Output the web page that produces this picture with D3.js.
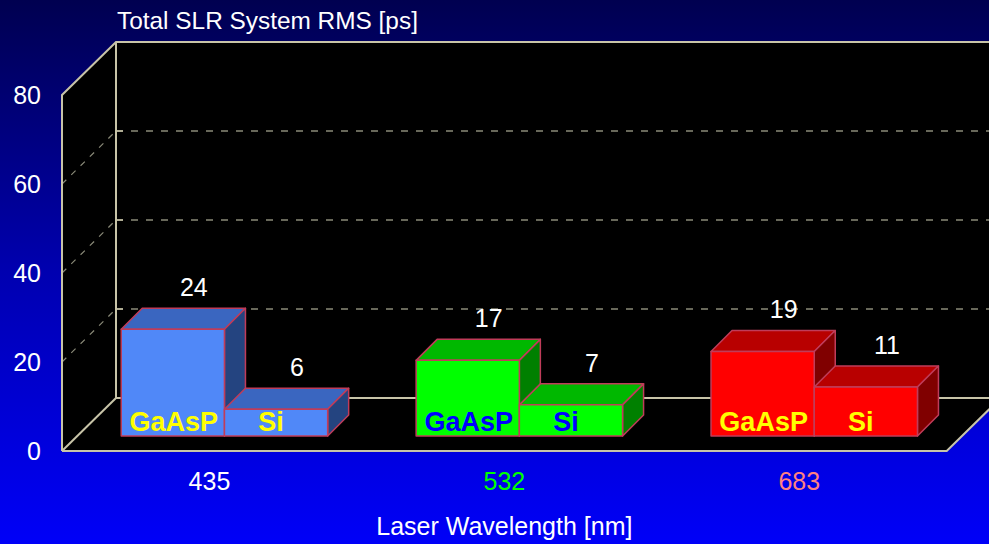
<!DOCTYPE html>
<html>
<head>
<meta charset="utf-8">
<script src="https://cdn.jsdelivr.net/npm/d3@7"></script>
<style>
  html, body { margin: 0; padding: 0; background: #000050; }
  svg { display: block; }
  text { font-family: "Liberation Sans", Arial, Helvetica, sans-serif; }
</style>
</head>
<body>
<svg id="chart" width="989" height="544"></svg>
<script>
// ---- data ----
const categories = ["435", "532", "683"];
const series = ["GaAsP", "Si"];
const gaaspValues = [24, 17, 19];
const siValues = [6, 7, 11];
const yTicks = [0, 20, 40, 60, 80];
const yTitle = "Total SLR System RMS [ps]";
const xTitle = "Laser Wavelength [nm]";

// ---- styles ----
const palettes = [
  { front: "#5088f8", top: "#3a66c0", side: "#244480", label: "#ffff00", cat: "#ffffff" },
  { front: "#00ff00", top: "#00b800", side: "#008000", label: "#0000ff", cat: "#00ff00" },
  { front: "#ff0000", top: "#b80000", side: "#800000", label: "#ffff00", cat: "#ff8080" }
];
const lineColor = "#c8c4a8";
const gridColor = "#8a8a78";

const W = 989, H = 544;
const svg = d3.select("#chart");

// background gradient
const defs = svg.append("defs");
const grad = defs.append("linearGradient").attr("id", "bg").attr("x1", 0).attr("y1", 0).attr("x2", 0).attr("y2", 1);
grad.append("stop").attr("offset", "0%").attr("stop-color", "#000050");
grad.append("stop").attr("offset", "50%").attr("stop-color", "#0000b0");
grad.append("stop").attr("offset", "100%").attr("stop-color", "#0000f8");
svg.append("rect").attr("width", W).attr("height", H).attr("fill", "url(#bg)");

// ---- scales (front plane) ----
const x0 = d3.scaleBand().domain(categories).range([62, 946.7]).paddingInner(0.3).paddingOuter(0.15);
const x1 = d3.scaleBand().domain(series).range([0, x0.bandwidth()]).padding(0);
const y = d3.scaleLinear().domain([0, 80]).range([451, 95]);

// depth of the whole box and of bars
const DX = 54, DY = 53;
const barOff = 15, barDepth = 21;

// back wall
const backLeft = 62 + DX, backTop = y(80) - DY, backBottom = y(0) - DY;
svg.append("rect").attr("x", backLeft).attr("y", backTop).attr("width", W - backLeft + 20).attr("height", backBottom - backTop).attr("fill", "#000");
// side wall
svg.append("path").attr("d", `M62,${y(80)} L${backLeft},${backTop} L${backLeft},${backBottom} L62,${y(0)} Z`).attr("fill", "#000");
// floor
const xEnd = x0.range()[1];
svg.append("path").attr("d", `M62,${y(0)} L${xEnd},${y(0)} L${xEnd + DX},${backBottom} L${backLeft},${backBottom} Z`).attr("fill", "#000");

// gridlines
const gridVals = yTicks.filter(v => v > 0 && v < 80);
svg.append("g").selectAll("line").data(gridVals).join("line")
  .attr("x1", backLeft).attr("x2", W + 10)
  .attr("y1", d => y(d) - DY).attr("y2", d => y(d) - DY)
  .attr("stroke", gridColor).attr("stroke-width", 1.3).attr("stroke-dasharray", "7,8");
svg.append("g").selectAll("line").data(gridVals).join("line")
  .attr("x1", 62).attr("x2", backLeft)
  .attr("y1", d => y(d)).attr("y2", d => y(d) - DY)
  .attr("stroke", gridColor).attr("stroke-width", 1.2).attr("stroke-dasharray", "6,7");
// small ticks on back wall
svg.append("g").selectAll("line").data(gridVals).join("line")
  .attr("x1", backLeft).attr("x2", backLeft + 7)
  .attr("y1", d => y(d) - DY).attr("y2", d => y(d) - DY)
  .attr("stroke", lineColor).attr("stroke-width", 1.5);

// box borders
const border = svg.append("g").attr("fill", "none").attr("stroke", lineColor).attr("stroke-width", 2);
border.append("path").attr("d", `M62,${y(0)} L62,${y(80)} L${backLeft},${backTop} L${W + 10},${backTop}`);
border.append("path").attr("d", `M${backLeft},${backTop} L${backLeft},${backBottom} L${W + 10},${backBottom}`);
border.append("path").attr("d", `M62,${y(0)} L${backLeft},${backBottom}`);
border.append("path").attr("d", `M62,${y(0)} L${xEnd},${y(0)} L${xEnd + DX},${backBottom}`);

// y tick labels
svg.append("g").selectAll("text").data(yTicks).join("text")
  .attr("x", 41).attr("y", d => y(d)).attr("dy", "0.36em")
  .attr("text-anchor", "end").attr("fill", "#fff").attr("font-size", 25)
  .text(d => d);

// y title
svg.append("text").attr("x", 117).attr("y", 29).attr("fill", "#fff").attr("font-size", 24.4).text(yTitle);

// bars
const bars = [];
categories.forEach((c, i) => {
  [gaaspValues[i], siValues[i]].forEach((v, j) => {
    bars.push({ cat: c, ci: i, ser: series[j], value: v });
  });
});
const gBars = svg.append("g");
bars.forEach(b => {
  const p = palettes[b.ci];
  const xl = x0(b.cat) + x1(b.ser) + barOff;
  const xr = xl + x1.bandwidth();
  const yb = y(0) - barOff;
  const yt = y(b.value) - barOff;
  const g = gBars.append("g").attr("stroke", "#c03c5a").attr("stroke-width", 1.5).attr("stroke-linejoin", "round");
  g.append("path").attr("fill", p.top)
    .attr("d", `M${xl},${yt} L${xl + barDepth},${yt - barDepth} L${xr + barDepth},${yt - barDepth} L${xr},${yt} Z`);
  g.append("path").attr("fill", p.side)
    .attr("d", `M${xr},${yt} L${xr + barDepth},${yt - barDepth} L${xr + barDepth},${yb - barDepth} L${xr},${yb} Z`);
  g.append("rect").attr("fill", p.front).attr("x", xl).attr("y", yt).attr("width", xr - xl).attr("height", yb - yt);
  // value label
  gBars.append("text").attr("x", (xl + xr) / 2 + barDepth).attr("y", yt - barDepth - 12)
    .attr("text-anchor", "middle").attr("fill", "#fff").attr("font-size", 25).text(b.value);
  // inner label
  gBars.append("text").attr("x", (xl + xr) / 2 + (b.ser === "Si" ? -5 : 1)).attr("y", yb - 5)
    .attr("text-anchor", "middle").attr("fill", p.label).attr("font-size", 27).attr("font-weight", "bold")
    .text(b.ser);
});

// category labels
svg.append("g").selectAll("text").data(categories).join("text")
  .attr("x", d => x0(d) + x0.bandwidth() / 2).attr("y", 490)
  .attr("text-anchor", "middle").attr("font-size", 25)
  .attr("fill", (d, i) => palettes[i].cat).text(d => d);

// x title
svg.append("text").attr("x", (x0.range()[0] + x0.range()[1]) / 2).attr("y", 535)
  .attr("text-anchor", "middle").attr("fill", "#fff").attr("font-size", 25).text(xTitle);
</script>
</body>
</html>
